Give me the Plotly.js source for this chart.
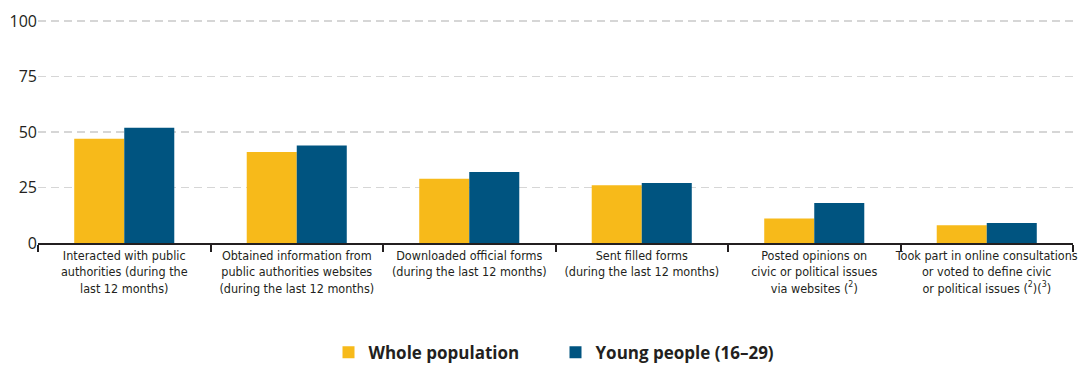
<!DOCTYPE html>
<html>
<head>
<meta charset="utf-8">
<script src="https://cdn.plot.ly/plotly-3.0.1.min.js"></script>
<style>html,body{margin:0;padding:0;background:#fff;}#chart{width:1080px;height:365px;}</style>
</head>
<body>
<div id="chart"></div>
<script>
const categories = [
  "Interacted with public<br>authorities (during the<br>last 12 months)",
  "Obtained information from<br>public authorities websites<br>(during the last 12 months)",
  "Downloaded official forms<br>(during the last 12 months)",
  "Sent filled forms<br>(during the last 12 months)",
  "Posted opinions on<br>civic or political issues<br>via websites (<sup>2</sup>)",
  "Took part in online consultations<br>or voted to define civic<br>or political issues (<sup>2</sup>)(<sup>3</sup>)"
];
const wholePopulation = [47, 41, 29, 26, 11, 8];
const youngPeople = [52, 44, 32, 27, 18, 9];
const seriesNames = ["Whole population", "Young people (16–29)"];
const yTicks = [0, 25, 50, 75, 100];

const condensed = "'Liberation Sans Narrow', 'DejaVu Sans Condensed', 'Roboto Condensed', sans-serif";

const traces = [
  {type: "bar", name: seriesNames[0], x: categories, y: wholePopulation,
   marker: {color: "#F7BA1A"}, hoverinfo: "y"},
  {type: "bar", name: seriesNames[1], x: categories, y: youngPeople,
   marker: {color: "#005480"}, hoverinfo: "y"}
];

const layout = {
  width: 1080, height: 365,
  margin: {l: 38, r: 7, t: 19, b: 122, autoexpand: false},
  paper_bgcolor: "#fff", plot_bgcolor: "#fff",
  barmode: "group", bargap: 0.42, bargroupgap: 0,
  showlegend: true,
  legend: {orientation: "h", x: 0.5, xanchor: "center", y: -0.49, yanchor: "middle",
           font: {family: "'Open Sans', 'DejaVu Sans', sans-serif", size: 17, color: "#231f20", weight: "bold"},
           itemwidth: 30, entrywidth: 182, traceorder: "normal"},
  xaxis: {
    type: "category", tickson: "boundaries", ticks: "outside", ticklen: 7, tickwidth: 2, tickcolor: "#231f20",
    showline: true, linecolor: "#231f20", linewidth: 2, showgrid: false,
    tickangle: 0, automargin: false,
    tickfont: {family: condensed, size: 12.5, color: "#231f20"},
    fixedrange: true
  },
  yaxis: {
    range: [0, 101], tickvals: yTicks, ticktext: yTicks.map(String),
    showgrid: true, gridcolor: "#d6d6d6", griddash: "8px,5px", gridwidth: 1.5,
    zeroline: false, showline: false, ticks: "", automargin: false,
    tickfont: {family: "'Open Sans', 'DejaVu Sans', sans-serif", size: 16, color: "#231f20"},
    fixedrange: true
  },
  font: {family: condensed, color: "#231f20"}
};

Plotly.newPlot("chart", traces, layout, {displayModeBar: false, staticPlot: true});
</script>
</body>
</html>
